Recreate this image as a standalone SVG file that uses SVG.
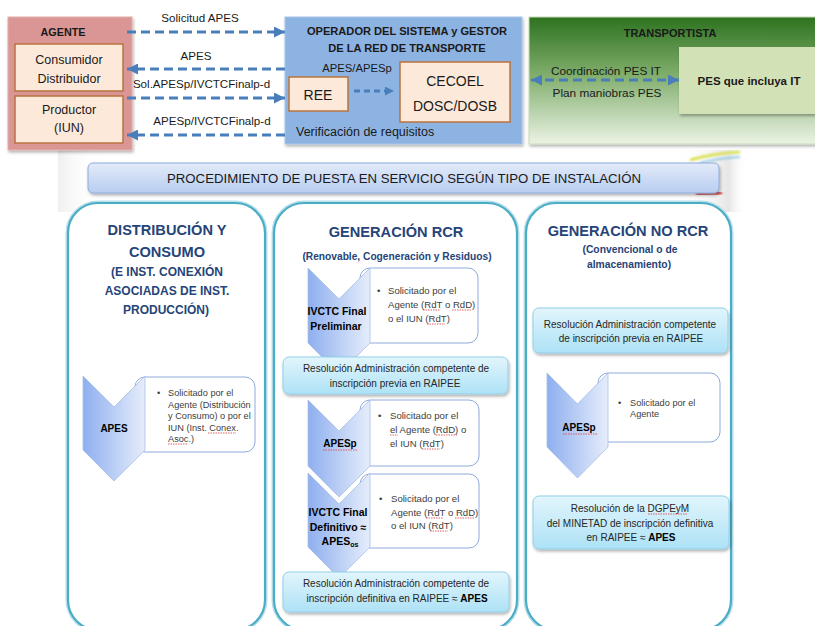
<svg xmlns="http://www.w3.org/2000/svg" width="815" height="626" viewBox="0 0 815 626">
<defs>
<style>
text{font-family:"Liberation Sans",Arial,sans-serif;fill:#1a1a1a}
.b{font-weight:bold}
.top{font-size:11.6px}
.ttl{font-size:14.6px;font-weight:bold;fill:#264478;text-anchor:middle}
.sub{font-weight:bold;fill:#264478;text-anchor:middle}
.chl{font-weight:bold;fill:#000;text-anchor:middle}
.bul{fill:#404040}
.res{font-size:10px;fill:#262626;text-anchor:middle}
.col{fill:#fff;stroke:#4bacc6;stroke-width:2.2}
.colo{fill:none;stroke:#b7dfea;stroke-width:5}
.chev{fill:url(#gChev);stroke:#a7bfe6;stroke-width:0.8}
.tbox{fill:#fff;stroke:#8eaadb;stroke-width:1}
.rbox{fill:url(#gRes);stroke:#93cfe6;stroke-width:1;filter:url(#sh)}
.ibox{fill:#fde9d9;stroke:#b8733d;stroke-width:1.5}
.dash{fill:none;stroke:#4a7ebb;stroke-width:3;stroke-dasharray:9 5}
.sq{fill:none;stroke:#e03a3a;stroke-width:0.8;stroke-dasharray:1.5 1}
</style>
<linearGradient id="gChev" x1="0" y1="0" x2="1" y2="0">
<stop offset="0" stop-color="#8eafef"/><stop offset="1" stop-color="#e6edfb"/>
</linearGradient>
<linearGradient id="gRes" x1="0" y1="0" x2="0" y2="1">
<stop offset="0" stop-color="#e2f5fc"/><stop offset="1" stop-color="#ade2f6"/>
</linearGradient>
<linearGradient id="gBan" x1="0" y1="0" x2="0" y2="1">
<stop offset="0" stop-color="#e3ebf9"/><stop offset="1" stop-color="#b8cdf1"/>
</linearGradient>
<linearGradient id="gTr" x1="0" y1="0" x2="0" y2="1">
<stop offset="0" stop-color="#2d721f"/><stop offset="0.45" stop-color="#7fad6b"/><stop offset="1" stop-color="#ebf3e4"/>
</linearGradient>
<linearGradient id="gBg" x1="0" y1="0" x2="1" y2="0">
<stop offset="0" stop-color="#efefef" stop-opacity="1"/><stop offset="0.06" stop-color="#ffffff" stop-opacity="0"/><stop offset="0.9" stop-color="#ffffff" stop-opacity="0"/><stop offset="0.975" stop-color="#e6e6e6" stop-opacity="1"/><stop offset="1" stop-color="#ffffff" stop-opacity="0"/>
</linearGradient>
<filter id="sh" x="-10%" y="-10%" width="120%" height="140%">
<feDropShadow dx="1" dy="2" stdDeviation="1.5" flood-color="#000" flood-opacity="0.3"/>
</filter>
<filter id="blur" x="-20%" y="-50%" width="140%" height="200%">
<feGaussianBlur stdDeviation="1"/>
</filter>
<marker id="ah" viewBox="0 0 10 10" refX="10" refY="5" markerWidth="11" markerHeight="11" markerUnits="userSpaceOnUse" orient="auto-start-reverse">
<path d="M0,0 L10,5 L0,10 z" fill="#4a7ebb"/>
</marker>
<marker id="ahs" viewBox="0 0 10 10" refX="10" refY="5" markerWidth="9" markerHeight="9" markerUnits="userSpaceOnUse" orient="auto-start-reverse">
<path d="M0,0 L10,5 L0,10 z" fill="#4a7ebb"/>
</marker>
</defs>

<rect width="815" height="626" fill="#fff"/>

<g id="background">
<rect x="58" y="150" width="688" height="62" fill="url(#gBg)"/>
<path d="M690,160 Q715,153 740,152" stroke="#d8e040" stroke-width="2.5" fill="none" filter="url(#blur)"/>
<path d="M700,163 Q720,158 740,157" stroke="#7fc0e0" stroke-width="1.5" fill="none" filter="url(#blur)"/>
<path d="M696,194 L722,193" stroke="#d42020" stroke-width="2.5" fill="none" filter="url(#blur)"/>
</g>

<!-- top -->
<g id="agente">
<rect x="8" y="17" width="124" height="133" fill="#d99694" stroke="#e3aeac" stroke-width="1" filter="url(#sh)"/>
<text x="63" y="36" class="b" font-size="10.8" text-anchor="middle">AGENTE</text>
</g>
<g id="consumidor">
<rect x="15" y="44" width="108" height="47" class="ibox"/>
<text x="69" y="64" font-size="12.5" text-anchor="middle" fill="#262626">Consumidor</text>
<text x="69" y="83" font-size="12.5" text-anchor="middle" fill="#262626">Distribuidor</text>
</g>
<g id="productor">
<rect x="15" y="96" width="108" height="47" class="ibox"/>
<text x="69" y="114" font-size="12.5" text-anchor="middle" fill="#262626">Productor</text>
<text x="69" y="132" font-size="12.5" text-anchor="middle" fill="#262626">(IUN)</text>
</g>

<g id="operador">
<rect x="285" y="17" width="237" height="127" fill="#8db3e2" stroke="#a9c5e9" stroke-width="1" filter="url(#sh)"/>
<text x="407" y="35" class="b" font-size="11.1" text-anchor="middle">OPERADOR DEL SISTEMA y GESTOR</text>
<text x="407" y="52" class="b" font-size="11.1" text-anchor="middle">DE LA RED DE TRANSPORTE</text>
<text x="357" y="72" font-size="11.3" text-anchor="middle">APES/APESp</text>
<text x="296" y="136" font-size="12.5">Verificación de requisitos</text>
</g>
<g id="ree">
<rect x="289" y="77" width="59" height="34" class="ibox"/>
<text x="318" y="100" font-size="14" text-anchor="middle">REE</text>
</g>
<g id="cecoel">
<rect x="400" y="62" width="110" height="60" class="ibox"/>
<text x="455" y="86" font-size="14" text-anchor="middle">CECOEL</text>
<text x="455" y="111" font-size="14" text-anchor="middle">DOSC/DOSB</text>
</g>

<g id="transportista">
<rect x="529" y="17" width="290" height="127" fill="url(#gTr)" stroke="#c9dcbc" stroke-width="1" filter="url(#sh)"/>
<text x="670" y="37" class="b" font-size="11" text-anchor="middle">TRANSPORTISTA</text>
<text x="606" y="75" font-size="11.8" text-anchor="middle">Coordinación PES IT</text>
<text x="607" y="97" font-size="11.8" text-anchor="middle">Plan maniobras PES</text>
</g>
<g id="pes">
<rect x="679" y="47" width="140" height="67" fill="#d3e2b6" filter="url(#sh)"/>
<text x="749" y="85" class="b" font-size="11.5" text-anchor="middle">PES que incluya IT</text>
</g>

<g id="connectors">
<line x1="127" y1="32" x2="285" y2="32" class="dash" marker-end="url(#ah)"/>
<text x="200" y="22" class="top" text-anchor="middle">Solicitud APES</text>
<line x1="285" y1="69" x2="127" y2="69" class="dash" marker-end="url(#ah)"/>
<text x="196" y="60" class="top" text-anchor="middle">APES</text>
<line x1="127" y1="98" x2="285" y2="98" class="dash" marker-end="url(#ah)"/>
<text x="201.5" y="88" class="top" text-anchor="middle">Sol.APESp/IVCTCFinalp-d</text>
<line x1="285" y1="135" x2="127" y2="135" class="dash" marker-end="url(#ah)"/>
<text x="212" y="125" class="top" text-anchor="middle">APESp/IVCTCFinalp-d</text>
<line x1="354" y1="91" x2="394" y2="91" fill="none" stroke="#4a7ebb" stroke-width="3" stroke-dasharray="6 4" marker-end="url(#ahs)"/>
<line x1="531" y1="80" x2="679" y2="80" class="dash" stroke-dasharray="7 4" marker-start="url(#ah)" marker-end="url(#ah)"/>
</g>

<g id="banner">
<rect x="88" y="163" width="631" height="30" rx="5" fill="url(#gBan)" stroke="#8eaadb" stroke-width="1" filter="url(#sh)"/>
<text x="404" y="183" font-size="13.2" text-anchor="middle" fill="#1f3864" textLength="474" lengthAdjust="spacingAndGlyphs">PROCEDIMIENTO DE PUESTA EN SERVICIO SEGÚN TIPO DE INSTALACIÓN</text>
</g>

<!-- column 1 -->
<g id="col-distribucion">
<rect x="68" y="203" width="197" height="427" rx="30" class="colo"/>
<rect x="68" y="203" width="197" height="427" rx="30" class="col"/>
<text x="167" y="235" class="ttl">DISTRIBUCIÓN Y</text>
<text x="167" y="257" class="ttl">CONSUMO</text>
<text x="167" y="276" class="sub" font-size="12">(E INST. CONEXIÓN</text>
<text x="167" y="295" class="sub" font-size="12">ASOCIADAS DE INST.</text>
<text x="166" y="314" class="sub" font-size="12">PRODUCCIÓN)</text>
</g>
<g id="apes-c1">
<rect x="135" y="377" width="120" height="75" rx="10" class="tbox"/>
<path d="M83,376 L114,407 L145,376 L145,450 L114,481 L83,450 Z" class="chev"/>
<text x="114" y="432" class="chl" font-size="10">APES</text>
<g font-size="9.2">
<text x="157" y="396" class="bul">•</text>
<text x="168" y="396" class="bul">Solicitado por el</text>
<text x="168" y="407.5" class="bul">Agente (Distribución</text>
<text x="168" y="419" class="bul">y Consumo) o por el</text>
<text x="168" y="430.5" class="bul">IUN (Inst. Conex.</text>
<text x="168" y="442" class="bul">Asoc.)</text>
</g>
<path d="M208,433 L236,433 M168,444 L188,444" class="sq"/>
</g>

<!-- column 2 -->
<g id="col-rcr">
<rect x="274" y="203" width="243" height="427" rx="30" class="colo"/>
<rect x="274" y="203" width="243" height="427" rx="30" class="col"/>
<text x="396" y="237" class="ttl">GENERACIÓN RCR</text>
<text x="397" y="260" class="sub" font-size="10.2">(Renovable, Cogeneración y Residuos)</text>
</g>
<g id="ivctc-prelim">
<rect x="360" y="268" width="118" height="75" rx="10" class="tbox"/>
<path d="M308,268 L339,299 L370,268 L370,343 L339,374 L308,343 Z" class="chev"/>
<text x="337" y="315" class="chl" font-size="10.5">IVCTC Final</text>
<text x="336" y="330" class="chl" font-size="10.5">Preliminar</text>
<g font-size="9.6">
<text x="377" y="294" class="bul">•</text>
<text x="388" y="294" class="bul">Solicitado por el</text>
<text x="388" y="308" class="bul">Agente (RdT o RdD)</text>
<text x="388" y="322" class="bul">o el IUN (RdT)</text>
</g>
<path d="M423,310 L440,310 M452,310 L472,310 M427,324 L445,324" class="sq"/>
</g>
<g id="res-previa-rcr">
<rect x="283" y="357" width="225" height="37" rx="6" class="rbox"/>
<text x="396" y="372" class="res">Resolución Administración competente de</text>
<text x="395" y="387" class="res">inscripción previa en RAIPEE</text>
</g>
<g id="apesp-rcr">
<rect x="360" y="400" width="119" height="66" rx="10" class="tbox"/>
<path d="M308,400 L339,431 L370,400 L370,466 L339,497 L308,466 Z" class="chev"/>
<text x="340" y="447" class="chl" font-size="10">APESp</text>
<g font-size="9.6">
<text x="378" y="419" class="bul">•</text>
<text x="390" y="419" class="bul">Solicitado por el</text>
<text x="390" y="433" class="bul">el Agente (RdD) o</text>
<text x="390" y="447" class="bul">el IUN (RdT)</text>
</g>
<path d="M323,450 L357,450 M390,435 L398,435 M436,435 L457,435 M422,449 L440,449" class="sq"/>
</g>
<g id="ivctc-def">
<rect x="360" y="474" width="119" height="74" rx="10" class="tbox"/>
<path d="M308,473 L339,504 L370,473 L370,547 L339,578 L308,547 Z" class="chev"/>
<text x="338" y="516" class="chl" font-size="10.5">IVCTC Final</text>
<text x="338" y="531" class="chl" font-size="10.5">Definitivo ≈</text>
<text x="340" y="545" class="chl" font-size="10.5">APES<tspan font-size="7" dy="2">os</tspan></text>
<g font-size="9.6">
<text x="379" y="502" class="bul">•</text>
<text x="391" y="502" class="bul">Solicitado por el</text>
<text x="391" y="516" class="bul">Agente (RdT o RdD)</text>
<text x="391" y="529" class="bul">o el IUN (RdT)</text>
</g>
<path d="M426,518 L443,518 M455,518 L475,518 M430,531 L448,531" class="sq"/>
</g>
<g id="res-def-rcr">
<rect x="283" y="572" width="226" height="40" rx="6" class="rbox"/>
<text x="396" y="587" class="res">Resolución Administración competente de</text>
<text x="397" y="602" class="res">inscripción definitiva en RAIPEE ≈ <tspan class="b" fill="#000">APES</tspan></text>
</g>

<!-- column 3 -->
<g id="col-no-rcr">
<rect x="526" y="203" width="205" height="427" rx="30" class="colo"/>
<rect x="526" y="203" width="205" height="427" rx="30" class="col"/>
<text x="628" y="236" class="ttl">GENERACIÓN NO RCR</text>
<text x="630" y="253" class="sub" font-size="10.3">(Convencional o de</text>
<text x="629" y="268" class="sub" font-size="10.3">almacenamiento)</text>
</g>
<g id="res-previa-norcr">
<rect x="533" y="308" width="195" height="45" rx="6" class="rbox"/>
<text x="630" y="328" class="res">Resolución Administración competente</text>
<text x="631" y="342" class="res">de inscripción previa en RAIPEE</text>
</g>
<g id="apesp-norcr">
<rect x="598" y="373" width="122" height="69" rx="10" class="tbox"/>
<path d="M547,373 L577.5,404 L608,373 L608,447 L577.5,478 L547,447 Z" class="chev"/>
<text x="579" y="431" class="chl" font-size="10">APESp</text>
<g font-size="9.2">
<text x="618" y="406" class="bul">•</text>
<text x="630" y="406" class="bul">Solicitado por el</text>
<text x="630" y="417" class="bul">Agente</text>
</g>
<path d="M563,434 L597,434" class="sq"/>
</g>
<g id="res-def-norcr">
<rect x="533" y="496" width="196" height="53" rx="6" class="rbox"/>
<text x="630" y="512" class="res">Resolución de la DGPEyM</text>
<text x="630" y="527" class="res">del MINETAD de inscripción definitiva</text>
<text x="631" y="541" class="res">en RAIPEE ≈ <tspan class="b" fill="#000">APES</tspan></text>
<path d="M648,514 L687,514" class="sq"/>
</g>
</svg>
